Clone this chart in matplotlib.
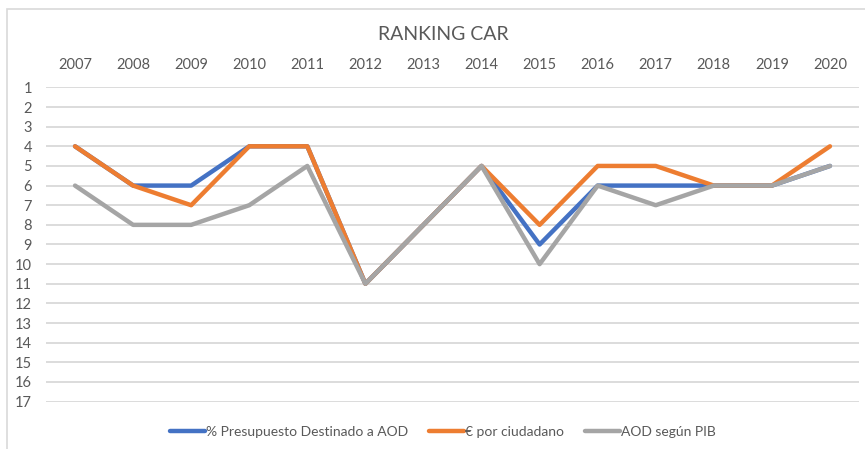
import matplotlib
matplotlib.use("Agg")
import matplotlib.pyplot as plt
from matplotlib.patches import Rectangle

plt.rcParams['font.family'] = ['Lato', 'DejaVu Sans']

years = ["2007", "2008", "2009", "2010", "2011", "2012", "2013",
         "2014", "2015", "2016", "2017", "2018", "2019", "2020"]
presupuesto = [4, 6, 6, 4, 4, 11, 8, 5, 9, 6, 6, 6, 6, 5]
por_ciudadano = [4, 6, 7, 4, 4, 11, 8, 5, 8, 5, 5, 6, 6, 4]
segun_pib = [6, 8, 8, 7, 5, 11, 8, 5, 10, 6, 7, 6, 6, 5]
series_names = ["% Presupuesto Destinado a AOD", "€ por ciudadano", "AOD según PIB"]
ranks = list(range(1, 18))

colors = ["#4472C4", "#ED7D31", "#A5A5A5"]
txt = "#595959"

W, H = 865, 449
fig = plt.figure(figsize=(W / 100, H / 100), dpi=100)
fig.patches.append(Rectangle((7 / W, 0 - 0.05), 1.0, 1 - 9 / H + 0.05,
                             transform=fig.transFigure, fill=False,
                             edgecolor="#D9D9D9", linewidth=1.2))

left, right, top, bottom = 46, 859, 87, 402
ax = fig.add_axes([left / W, 1 - bottom / H, (right - left) / W, (bottom - top) / H])

x = list(range(len(years)))
for vals, c, name in zip([presupuesto, por_ciudadano, segun_pib], colors, series_names):
    ax.plot(x, vals, color=c, linewidth=3.2, label=name,
            solid_capstyle="round", solid_joinstyle="round")

ax.set_xlim(-0.5, len(years) - 0.5)
ax.set_ylim(17.02, 0.98)
ax.set_yticks(ranks)
ax.set_yticklabels([str(r) for r in ranks])
ax.set_xticks(x)
ax.set_xticklabels(years)
ax.xaxis.tick_top()
ax.tick_params(axis="both", length=0, colors=txt, labelsize=10.5)
ax.tick_params(axis="y", pad=10)
ax.tick_params(axis="x", pad=11)
ax.grid(axis="y", color="#D9D9D9", linewidth=1.3)
ax.grid(axis="x", visible=False)
ax.set_axisbelow(True)
for s in ax.spines.values():
    s.set_visible(False)

fig.text(443 / W, 1 - 34 / H, "RANKING CAR", ha="center", va="center",
         fontsize=14, color=txt)

fig.legend(loc="center", bbox_to_anchor=(443 / W, 1 - 432 / H), ncol=3,
           frameon=False, fontsize=10, handlelength=2.5, handletextpad=0.1,
           columnspacing=1.5, labelcolor=txt)

fig.savefig("out.png", dpi=100)
